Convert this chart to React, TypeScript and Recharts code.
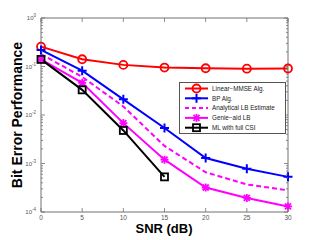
import { LineChart, Line, XAxis, YAxis } from 'recharts';

// SNR points (dB) and BER per scheme
const snr = [0, 5, 10, 15, 20, 25, 30];
const mmse = [0.257, 0.141, 0.108, 0.095, 0.092, 0.09, 0.091];
const bp = [0.22, 0.082, 0.021, 0.0054, 0.0013, 0.00078, 0.00053];
const analytical = [0.18, 0.061, 0.015, 0.0023, 0.00066, 0.00037, 0.00028];
const genie = [0.14, 0.046, 0.0068, 0.0012, 0.00032, 0.000195, 0.00013];
const ml = [0.14, 0.033, 0.0048, 0.00053, null, null, null];

const xTicks = [0, 5, 10, 15, 20, 25, 30];
const yMajor = [1e-4, 1e-3, 1e-2, 1e-1, 1];
const yExp = ['-4', '-3', '-2', '-1', '0'];
const yMinor = [1e-4, 1e-3, 1e-2, 1e-1].flatMap((d) => [2, 3, 4, 5, 6, 7, 8, 9].map((k) => k * d));
const yTicks = [...yMajor, ...yMinor];

const legendNames = ['Linear\u2212MMSE Alg.', 'BP Alg.', 'Analytical LB Estimate', 'Genie\u2212aid LB', 'ML with full CSI'];

const data = snr.map((s, i) => ({
  snr: s,
  mmse: mmse[i],
  bp: bp[i],
  analytical: analytical[i],
  genie: genie[i],
  ml: ml[i],
}));

const FONT = '"Liberation Sans", Arial, sans-serif';
const AX = '#707070';

const isMajor = (v: number) => yMajor.some((m) => Math.abs(m - v) / m < 1e-6);

function LeftTick(props: any) {
  const { x, y, payload } = props;
  const v = payload.value;
  const maj = isMajor(v);
  const idx = yMajor.findIndex((m) => Math.abs(m - v) / m < 1e-6);
  return (
    <g>
      <line x1={x} x2={x + (maj ? 4 : 2)} y1={y} y2={y} stroke={AX} strokeWidth={0.8} />
      {maj && (
        <text x={x - 5} y={y + 2} textAnchor="end" fontSize={6} fill="#555" fontFamily={FONT}>
          10
          <tspan dy={-3} fontSize={4.5}>{yExp[idx]}</tspan>
        </text>
      )}
    </g>
  );
}

function RightTick(props: any) {
  const { x, y, payload } = props;
  const maj = isMajor(payload.value);
  return <line x1={x} x2={x - (maj ? 4 : 2)} y1={y} y2={y} stroke={AX} strokeWidth={0.8} />;
}

function BottomTick(props: any) {
  const { x, y, payload } = props;
  return (
    <g>
      <line x1={x} x2={x} y1={y} y2={y - 4} stroke={AX} strokeWidth={0.8} />
      <text x={x} y={y + 8} textAnchor="middle" fontSize={6.5} fill="#555" fontFamily={FONT}>
        {payload.value}
      </text>
    </g>
  );
}

function TopTick(props: any) {
  const { x, y } = props;
  return <line x1={x} x2={x} y1={y} y2={y + 4} stroke={AX} strokeWidth={0.8} />;
}

function Circle({ cx, cy, color }: any) {
  return <circle cx={cx} cy={cy} r={4} stroke={color} strokeWidth={1.8} fill="none" />;
}
function Plus({ cx, cy, color }: any) {
  return (
    <g stroke={color} strokeWidth={2}>
      <line x1={cx - 4.5} x2={cx + 4.5} y1={cy} y2={cy} />
      <line x1={cx} x2={cx} y1={cy - 4.5} y2={cy + 4.5} />
    </g>
  );
}
function Star({ cx, cy, color }: any) {
  return (
    <g stroke={color} strokeWidth={1.8}>
      <line x1={cx - 4} x2={cx + 4} y1={cy} y2={cy} />
      <line x1={cx} x2={cx} y1={cy - 4} y2={cy + 4} />
      <line x1={cx - 3} x2={cx + 3} y1={cy - 3} y2={cy + 3} />
      <line x1={cx - 3} x2={cx + 3} y1={cy + 3} y2={cy - 3} />
    </g>
  );
}
function Square({ cx, cy, color }: any) {
  return <rect x={cx - 3.5} y={cy - 3.5} width={7} height={7} stroke={color} strokeWidth={1.8} fill="none" />;
}

const series = [
  { key: 'mmse', color: '#ff0000', Marker: Circle, dash: undefined },
  { key: 'bp', color: '#0000ff', Marker: Plus, dash: undefined },
  { key: 'analytical', color: '#ff00ff', Marker: null, dash: '5 3' },
  { key: 'genie', color: '#ff00ff', Marker: Star, dash: undefined },
  { key: 'ml', color: '#000000', Marker: Square, dash: undefined },
];

function LegendBox() {
  return (
    <svg width={107} height={52} style={{ display: 'block' }}>
      <rect x={0.5} y={0.5} width={106} height={51} fill="#fff" stroke="#555" strokeWidth={1} />
      {series.map((s, i) => {
        const y = 6.5 + i * 9.8;
        const M = s.Marker;
        return (
          <g key={s.key}>
            <line x1={6} x2={29} y1={y} y2={y} stroke={s.color} strokeWidth={2} strokeDasharray={s.dash ? '4 3' : undefined} />
            {M && <M cx={17.5} cy={y} color={s.color} />}
            <text x={33} y={y + 2.3} fontSize={6.3} fill="#222" fontFamily={FONT}>
              {legendNames[i]}
            </text>
          </g>
        );
      })}
    </svg>
  );
}

export default function App() {
  return (
    <div style={{ position: 'absolute', left: 0, top: 0, width: 319, height: 240, background: '#fff' }}>
      <LineChart width={319} height={240} data={data} margin={{ top: 17, right: 30, bottom: 0, left: 0 }}>
        <XAxis
          xAxisId="b"
          dataKey="snr"
          type="number"
          domain={[0, 30]}
          ticks={xTicks}
          height={28}
          tickSize={0}
          tickMargin={0}
          tickLine={false}
          axisLine={{ stroke: AX, strokeWidth: 1 }}
          tick={<BottomTick />}
          interval={0}
        />
        <XAxis
          xAxisId="t"
          orientation="top"
          dataKey="snr"
          type="number"
          domain={[0, 30]}
          ticks={xTicks}
          height={1}
          tickSize={0}
          tickMargin={0}
          tickLine={false}
          axisLine={{ stroke: AX, strokeWidth: 1 }}
          tick={<TopTick />}
          interval={0}
        />
        <YAxis
          yAxisId="l"
          scale="log"
          type="number"
          domain={[1e-4, 1]}
          allowDataOverflow
          ticks={yTicks}
          width={41}
          tickSize={0}
          tickMargin={0}
          tickLine={false}
          axisLine={{ stroke: AX, strokeWidth: 1 }}
          tick={<LeftTick />}
          interval={0}
        />
        <YAxis
          yAxisId="r"
          orientation="right"
          scale="log"
          type="number"
          domain={[1e-4, 1]}
          allowDataOverflow
          ticks={yTicks}
          width={1}
          tickSize={0}
          tickMargin={0}
          tickLine={false}
          axisLine={{ stroke: AX, strokeWidth: 1 }}
          tick={<RightTick />}
          interval={0}
        />
        {series.map((s) => {
          const M = s.Marker;
          return (
            <Line
              key={s.key}
              xAxisId="b"
              yAxisId="l"
              dataKey={s.key}
              stroke={s.color}
              strokeWidth={2}
              strokeDasharray={s.dash}
              dot={M ? (p: any) => <M key={`${s.key}-${p.index}`} cx={p.cx} cy={p.cy} color={s.color} /> : false}
              activeDot={false}
              isAnimationActive={false}
              connectNulls={false}
            />
          );
        })}
        <text x={164} y={233} textAnchor="middle" fontSize={13} fontWeight="bold" fill="#000" fontFamily={FONT}>
          SNR (dB)
        </text>
        <text
          x={22}
          y={115}
          transform="rotate(-90 22 115)"
          textAnchor="middle"
          fontSize={14}
          fontWeight="bold"
          fill="#000"
          fontFamily={FONT}
        >
          Bit Error Performance
        </text>
      </LineChart>
      <div style={{ position: 'absolute', left: 179, top: 82 }}>
        <LegendBox />
      </div>
    </div>
  );
}
